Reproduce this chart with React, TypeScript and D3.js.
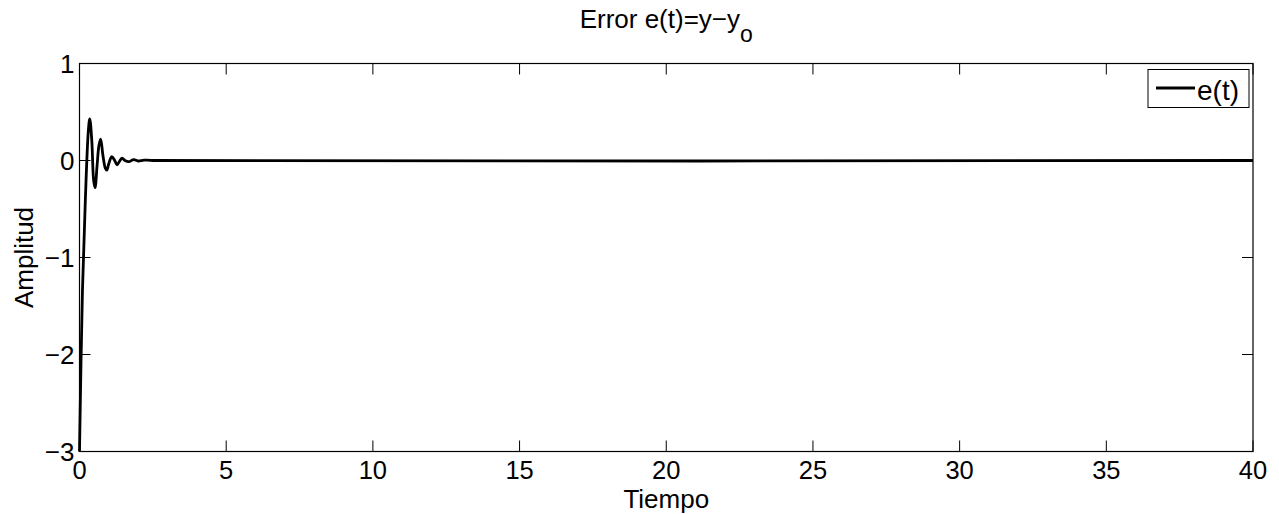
import React, { useEffect, useRef } from "react";
import * as d3 from "d3";

// error signal e(t)
const times = [0, 0.1, 0.2, 0.3, 0.35, 0.42, 0.48, 0.53, 0.6, 0.66, 0.72, 0.8, 0.88, 0.93, 1.0, 1.1, 1.2, 1.28, 1.36, 1.45, 1.55, 1.68, 1.85, 2.0, 2.2, 2.5, 40];
const errors = [-3, -1.35, -0.4, 0.3, 0.43, 0.2, -0.2, -0.28, -0.05, 0.15, 0.22, 0.05, -0.08, -0.1, -0.03, 0.04, 0.0, -0.045, -0.01, 0.025, 0.0, -0.012, 0.01, -0.005, 0.004, 0, 0];

const xTicks = [0, 5, 10, 15, 20, 25, 30, 35, 40];
const yTicks = [-3, -2, -1, 0, 1];
const legendLabel = "e(t)";

const App = () => {
  const ref = useRef<SVGSVGElement>(null);

  useEffect(() => {
    const svg = d3.select(ref.current);
    svg.selectAll("*").remove();

    const width = 1279;
    const height = 514;
    const font = "'Liberation Sans', Arial, Helvetica, sans-serif";

    const x = d3.scaleLinear().domain([0, 40]).range([79.5, 1253]);
    const y = d3.scaleLinear().domain([-3, 1]).range([451.5, 63.5]);

    svg.attr("width", width).attr("height", height);
    svg.append("rect").attr("width", width).attr("height", height).attr("fill", "#fff");

    const data = times.map((t, i) => ({ t, e: errors[i] }));

    // curve
    svg.append("path")
      .datum(data)
      .attr("fill", "none")
      .attr("stroke", "#000")
      .attr("stroke-width", 2.8)
      .attr("stroke-linejoin", "round")
      .attr("d", d3.line<{ t: number; e: number }>()
        .x(d => x(d.t))
        .y(d => y(d.e))
        .curve(d3.curveCatmullRom.alpha(0.5)));

    const tickLen = 11;
    const [x0, x1] = x.range();
    const [y0, y1] = y.range();

    // box
    svg.append("rect")
      .attr("x", x0).attr("y", y1)
      .attr("width", x1 - x0).attr("height", y0 - y1)
      .attr("fill", "none").attr("stroke", "#000").attr("stroke-width", 1.2);

    const ticks = svg.append("g").attr("stroke", "#000").attr("stroke-width", 1);
    xTicks.forEach(t => {
      ticks.append("line").attr("x1", x(t)).attr("x2", x(t)).attr("y1", y0).attr("y2", y0 - tickLen);
      ticks.append("line").attr("x1", x(t)).attr("x2", x(t)).attr("y1", y1).attr("y2", y1 + tickLen);
    });
    yTicks.forEach(v => {
      ticks.append("line").attr("x1", x0).attr("x2", x0 + tickLen).attr("y1", y(v)).attr("y2", y(v));
      ticks.append("line").attr("x1", x1).attr("x2", x1 - tickLen).attr("y1", y(v)).attr("y2", y(v));
    });

    const labels = svg.append("g").attr("font-family", font).attr("font-size", 26).attr("fill", "#000");

    xTicks.forEach(t => {
      labels.append("text")
        .attr("x", x(t)).attr("y", 479)
        .attr("font-size", 25.5)
        .attr("text-anchor", "middle")
        .text(String(t));
    });
    yTicks.forEach(v => {
      labels.append("text")
        .attr("x", x0 - 5).attr("y", y(v) + 9)
        .attr("text-anchor", "end")
        .text(v < 0 ? "\u2212" + Math.abs(v) : String(v));
    });

    // axis titles
    labels.append("text")
      .attr("x", (x0 + x1) / 2).attr("y", 508)
      .attr("text-anchor", "middle")
      .text("Tiempo");
    labels.append("text")
      .attr("transform", `translate(33, ${(y0 + y1) / 2}) rotate(-90)`)
      .attr("text-anchor", "middle")
      .text("Amplitud");

    // title with subscript
    const title = labels.append("text")
      .attr("x", (x0 + x1) / 2).attr("y", 28)
      .attr("text-anchor", "middle");
    title.append("tspan").text("Error e(t)=y\u2212y");
    title.append("tspan").attr("dy", 14).attr("font-size", 23).text("o");

    // legend
    const lg = svg.append("g");
    lg.append("rect")
      .attr("x", 1148).attr("y", 69.5).attr("width", 101).attr("height", 38)
      .attr("fill", "#fff").attr("stroke", "#000").attr("stroke-width", 1);
    lg.append("line")
      .attr("x1", 1156).attr("x2", 1195).attr("y1", 88).attr("y2", 88)
      .attr("stroke", "#000").attr("stroke-width", 2.8);
    lg.append("text")
      .attr("x", 1197).attr("y", 100)
      .attr("font-family", font).attr("font-size", 28)
      .text(legendLabel);
  }, []);

  return <svg ref={ref} style={{ position: "absolute", left: 0, top: 0 }}></svg>;
};

export default App;
